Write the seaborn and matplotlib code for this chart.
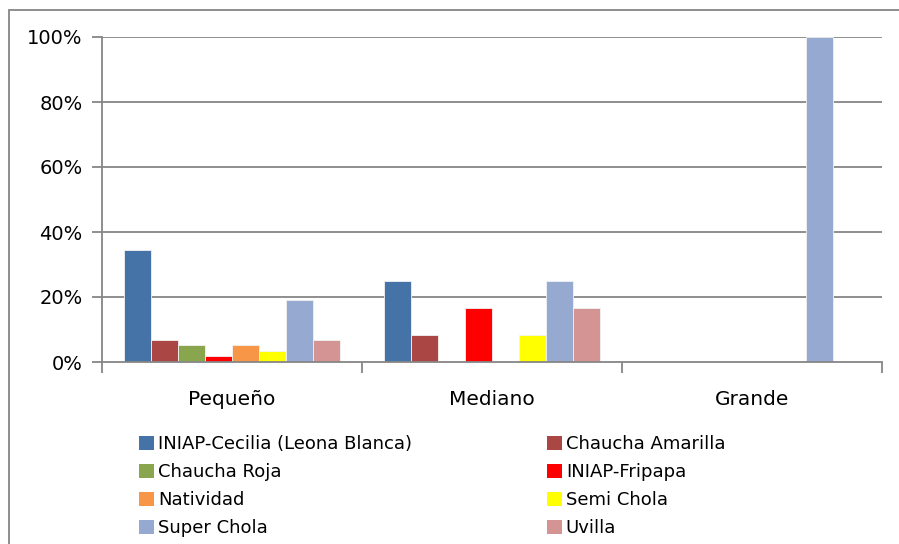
import matplotlib
matplotlib.use("Agg")
import matplotlib.pyplot as plt
import seaborn as sns
import pandas as pd
from matplotlib.patches import Rectangle
from matplotlib.ticker import PercentFormatter

categories = ["Pequeño", "Mediano", "Grande"]
varieties = ["INIAP-Cecilia (Leona Blanca)", "Chaucha Amarilla", "Chaucha Roja",
             "INIAP-Fripapa", "Natividad", "Semi Chola", "Super Chola", "Uvilla"]
cecilia = [34.5, 25.0, 0.0]
chaucha_amarilla = [6.9, 8.3, 0.0]
chaucha_roja = [5.2, 0.0, 0.0]
fripapa = [1.7, 16.7, 0.0]
natividad = [5.2, 0.0, 0.0]
semi_chola = [3.4, 8.3, 0.0]
super_chola = [19.0, 25.0, 100.0]
uvilla = [6.9, 16.7, 0.0]
yticks = [0, 20, 40, 60, 80, 100]

series = [cecilia, chaucha_amarilla, chaucha_roja, fripapa, natividad, semi_chola, super_chola, uvilla]
colors = ["#4572A7", "#AA4643", "#89A54E", "#FF0000", "#F79646", "#FFFF00", "#95A9D1", "#D39493"]

rows = []
for v, vals in zip(varieties, series):
    for c, val in zip(categories, vals):
        rows.append({"Tamaño": c, "Variedad": v, "Porcentaje": val})
df = pd.DataFrame(rows)

sns.set_theme(style="white")
plt.rcParams["font.family"] = ["DejaVu Sans"]

fig = plt.figure(figsize=(8.99, 5.44), dpi=100)
ax = fig.add_axes([102 / 899, 1 - 362 / 544, 780 / 899, 325 / 544])

sns.barplot(data=df, x="Tamaño", y="Porcentaje", hue="Variedad", order=categories,
            hue_order=varieties, palette=colors, width=0.83, saturation=1,
            edgecolor="#F2F2F2", linewidth=0.6, ax=ax, legend=False)

gray = "#868686"
ax.set_ylim(0, 100)
ax.set_xlim(-0.5, 2.5)
ax.set_yticks(yticks)
ax.yaxis.set_major_formatter(PercentFormatter(100, decimals=0))
for y in yticks[1:]:
    ax.axhline(y, color=gray, lw=1.3, zorder=0)
ax.set_axisbelow(True)
for s in ["top", "right"]:
    ax.spines[s].set_visible(False)
for s in ["left", "bottom"]:
    ax.spines[s].set_color(gray)
    ax.spines[s].set_linewidth(1.3)
ax.set_xlabel("")
ax.set_ylabel("")
ax.tick_params(axis="y", length=7, width=1.3, color=gray, labelsize=14, pad=7,
               labelcolor="black", left=True)
ax.tick_params(axis="x", which="major", length=0, labelsize=14.5, pad=20, labelcolor="black")
ax.set_xticks([-0.5, 0.5, 1.5, 2.5], minor=True)
ax.tick_params(axis="x", which="minor", length=8, width=1.3, color=gray, bottom=True)

# legend, two columns placed separately (row-wise order)
handles = [Rectangle((0, 0), 1, 1, facecolor=c, edgecolor="none") for c in colors]
for col, x0 in ((0, 139), (1, 547)):
    idx = list(range(col, len(varieties), 2))
    fig.legend([handles[i] for i in idx], [varieties[i] for i in idx],
               loc="upper left", bbox_to_anchor=(x0 / 899, 1 - 435 / 544),
               frameon=False, borderpad=0, borderaxespad=0,
               prop={"family": "DejaVu Sans", "size": 13}, labelcolor="black",
               handlelength=0.82, handleheight=0.82, handletextpad=0.22,
               labelspacing=0.55)

# outer chart border
fig.patches.append(Rectangle((9 / 899, -0.05), 1.0, 1 - 10 / 544 + 0.05, transform=fig.transFigure,
                             fill=False, edgecolor=gray, linewidth=1.3, zorder=-1))

fig.savefig("out.png", dpi=100)
